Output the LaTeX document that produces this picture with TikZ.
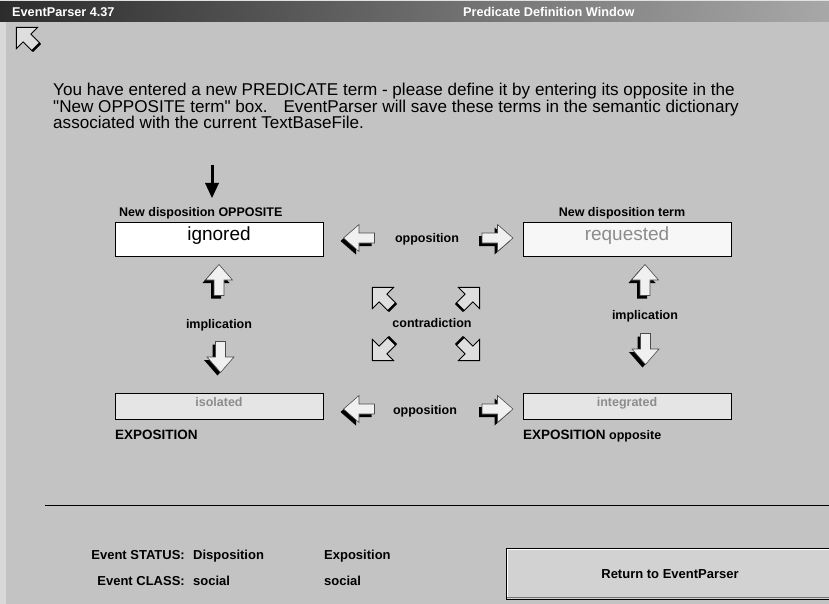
\documentclass[tikz,border=0pt]{standalone}
\usepackage{fontspec}
\setmainfont{Liberation Sans}
\usetikzlibrary{calc}

\definecolor{panel}{HTML}{C3C3C3}
\definecolor{capleft}{HTML}{2C2C2C}
\definecolor{capright}{HTML}{A8A8A8}
\definecolor{faded}{HTML}{8C8C8C}
\definecolor{face}{HTML}{F0F0F0}
\definecolor{btnface}{HTML}{D2D2D2}

\tikzset{
	lbl/.style={font=\fontsize{12.5}{14}\selectfont\bfseries, inner sep=0pt},
	foot/.style={font=\fontsize{13}{15}\selectfont\bfseries, inner sep=0pt},
	valbox/.style={draw=black, line width=1pt, minimum width=208pt, inner sep=0pt},
	blockarrow/.pic={
		\fill[black, shift={(-3,3)}, rotate=#1] (-15.5,-5) -- (0,-5) -- (0,-13.5) -- (15.5,0) -- (0,13.5) -- (0,5) -- (-15.5,5) -- cycle;
		\filldraw[fill=face, draw=black!70, line width=0.6pt, rotate=#1] (-15.5,-5) -- (0,-5) -- (0,-13.5) -- (15.5,0) -- (0,13.5) -- (0,5) -- (-15.5,5) -- cycle;
	},
	hollowarrow/.pic={
		\filldraw[fill=panel!55!white, draw=black, line width=0.8pt, rotate=#1] (-13,-5.5) -- (0,-5.5) -- (0,-15) -- (15,0) -- (0,15) -- (0,5.5) -- (-13,5.5) -- cycle;
		\draw[line width=2.6pt, rotate=#1] (-13,-5.5) -- (-13,5.5);
	},
}

\begin{document}
\begin{tikzpicture}[x=1pt, y=-1pt]
		%%%%% START %%%%%
		\useasboundingbox (0,0) rectangle (829,604);
		\fill[panel] (0,0) rectangle (829,604);
		\fill[panel!65!white] (0,0) rectangle (6,604);
		
		% caption bar
		\fill[panel!50!white] (0,0) rectangle (829,2);
		\shade[left color=capleft, right color=capright] (0,2) rectangle (829,22);
		\node[lbl, font=\fontsize{12.7}{14}\selectfont\bfseries, text=white, anchor=base west] (appname) at (12,17) {EventParser 4.37};
		\node[lbl, font=\fontsize{12.7}{14}\selectfont\bfseries, text=white, anchor=base west] (wintitle) at (463,17) {Predicate Definition Window};
		\pic at (27,38) {hollowarrow=135};
		
		% instructions (base = last line)
		\node[anchor=base west, align=left, inner sep=0pt, font=\fontsize{17.1}{16.5}\selectfont] (info) at (53,129)
			{You have entered a new PREDICATE term - please define it by entering its opposite in the\\
			\textquotedbl New OPPOSITE term\textquotedbl{} box. \ \ EventParser will save these terms in the semantic dictionary\\
			associated with the current TextBaseFile.};
		\fill (210.5,165) rectangle (213.5,184);
		\fill (205,183) -- (219,183) -- (212,198) -- cycle;
		
		% square of opposition
		\node[lbl, anchor=base west] (oppLabel) at (119,216) {New disposition OPPOSITE};
		\node[valbox, fill=white, minimum height=33.5pt] (ignoredBox) at (219,239.3) {};
		\node[anchor=base, inner sep=0pt, font=\fontsize{19}{20}\selectfont] (ignored) at (219,240) {ignored};
		
		\node[lbl, anchor=base] (termLabel) at (622,216) {New disposition term};
		\node[valbox, fill=white!97!black, minimum height=34.5pt] (requestedBox) at (627.2,239.3) {};
		\node[anchor=base, inner sep=0pt, text=faded, font=\fontsize{19}{20}\selectfont] (requested) at (627,240) {requested};
		
		\node[valbox, fill=white!90!black, minimum height=26pt] (isolatedBox) at (219,406) {};
		\node[lbl, anchor=base, text=faded] (isolated) at (219,406) {isolated};
		\node[lbl, anchor=base west, font=\fontsize{13.5}{15}\selectfont\bfseries] (expoLabel) at (115,439) {EXPOSITION};
		
		\node[valbox, fill=white!90!black, minimum height=26pt] (integratedBox) at (627.2,406) {};
		\node[lbl, anchor=base, text=faded] (integrated) at (627,406) {integrated};
		\node[lbl, anchor=base west] (expoOppLabel) at (523,439) {{\fontsize{13.5}{15}\selectfont EXPOSITION} opposite};
		
		\node[lbl, anchor=base] (oppTop) at (427,242) {opposition};
		\node[lbl, anchor=base] (oppBottom) at (425,414) {opposition};
		\node[lbl, anchor=base] (implLeft) at (219,328) {implication};
		\node[lbl, anchor=base] (implRight) at (645,319) {implication};
		\node[lbl, anchor=base] (contra) at (432,327.5) {contradiction};
		
		\pic at (359,238) {blockarrow=180};
		\pic at (497.5,238) {blockarrow=0};
		\pic at (359,409) {blockarrow=180};
		\pic at (497.5,409) {blockarrow=0};
		\pic at (219,280) {blockarrow=90};
		\pic at (645,280) {blockarrow=90};
		\pic at (220.5,357) {blockarrow=-90};
		\pic at (645.5,349) {blockarrow=-90};
		
		\foreach \px/\py/\ang in {383/298/135, 469/298/45, 383/350/-135, 469/350/-45}
			\pic at (\px,\py) {hollowarrow=\ang};
		
		% status area
		\draw[line width=1pt] (45,505) -- (829,505);
		\node[foot, anchor=base east] (statusKey) at (185,559) {Event STATUS:};
		\node[foot, anchor=base west] (statusVal) at (193,559) {Disposition};
		\node[foot, anchor=base west] (statusExpo) at (324,559) {Exposition};
		\node[foot, anchor=base east] (classKey) at (185,585) {Event CLASS:};
		\node[foot, anchor=base west] (classVal) at (193,585) {social};
		\node[foot, anchor=base west] (classExpo) at (324,585) {social};
		
		\node[draw=black, line width=1pt, fill=btnface, minimum width=330pt, minimum height=51pt, anchor=north west] (returnBtn) at (506,548) {};
		\draw[white, line width=1pt] (507.5,597) -- (507.5,549.5) -- (829,549.5);
		\draw[black!55, line width=1.2pt] (507,597.2) -- (829,597.2);
		\node[foot, anchor=base] (returnText) at (670,578) {Return to EventParser};
		%%%%% END %%%%%
\end{tikzpicture}
\end{document}
